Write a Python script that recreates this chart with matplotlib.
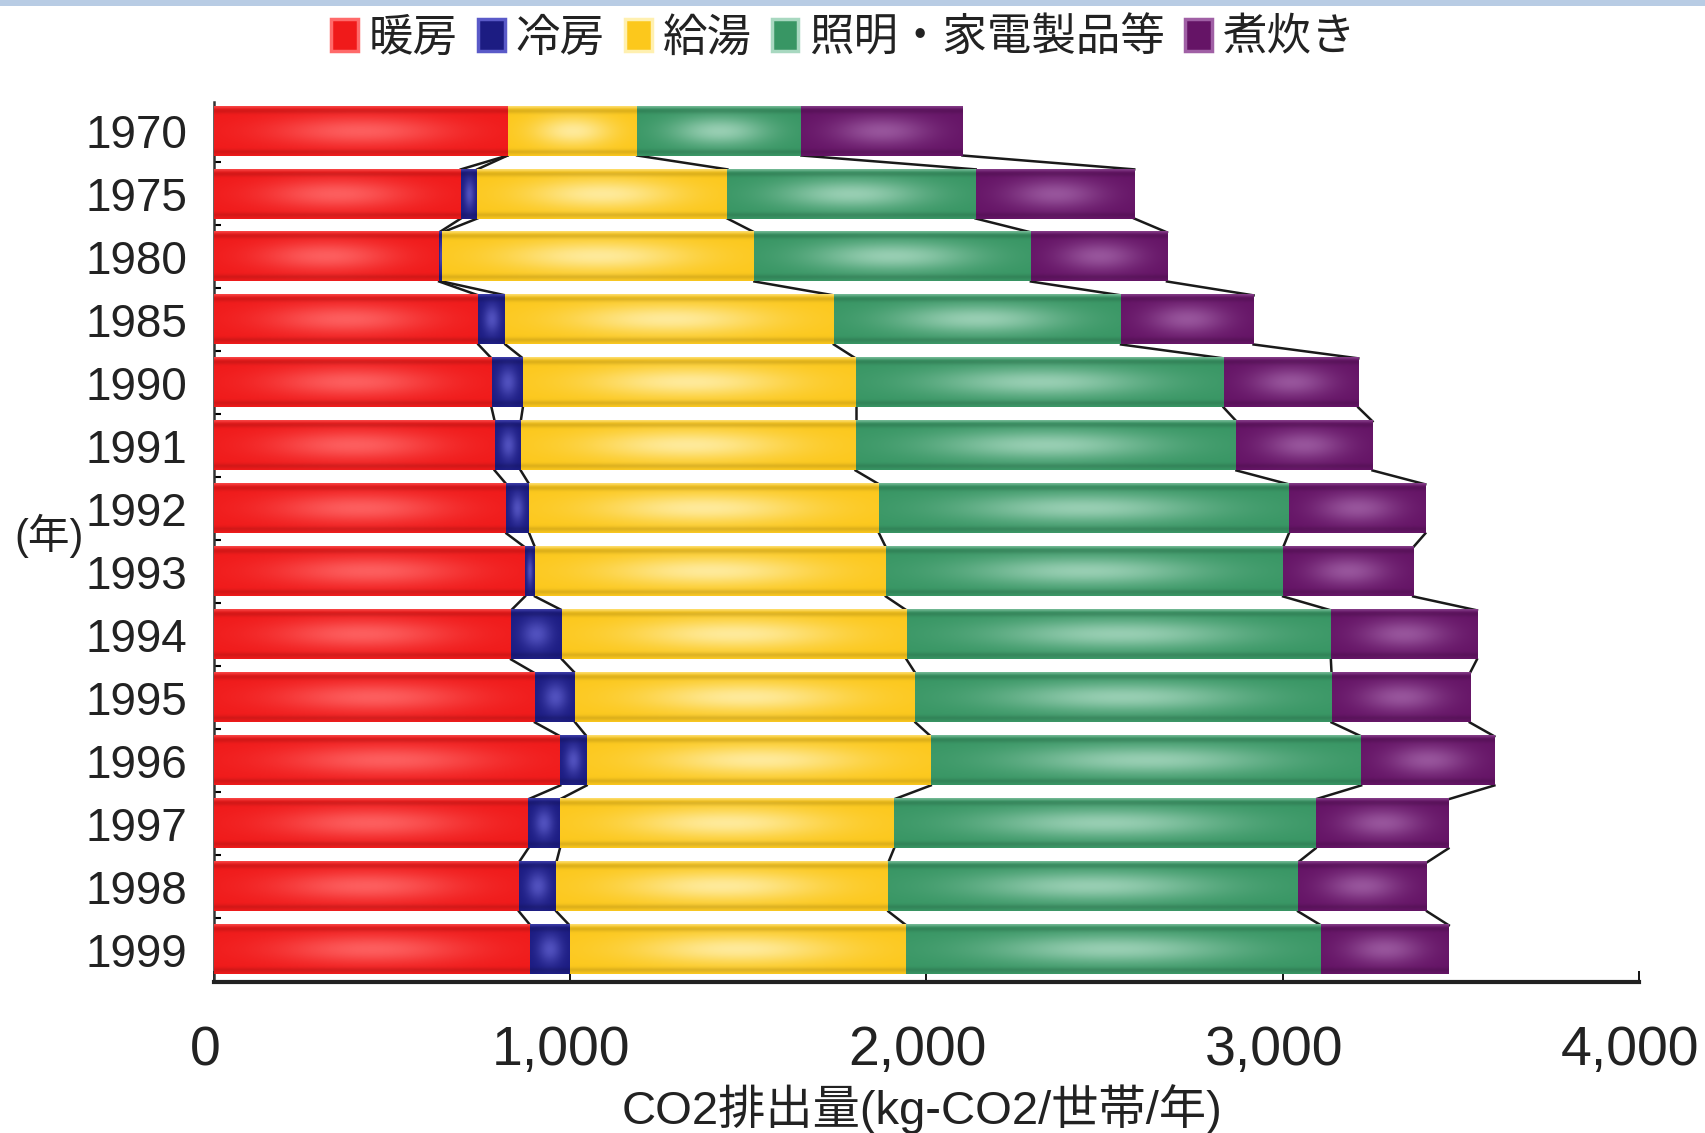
import numpy as np
import matplotlib
matplotlib.use("Agg")
import matplotlib.pyplot as plt
import matplotlib.transforms as mtransforms
from matplotlib.colors import to_rgb
from matplotlib.patches import Patch, Rectangle
from matplotlib.ticker import FuncFormatter

# household CO2 emissions by use (kg-CO2 / household / year)
years = ['1970', '1975', '1980', '1985', '1990', '1991', '1992',
         '1993', '1994', '1995', '1996', '1997', '1998', '1999']
heating = [824, 693, 632, 742, 779, 788, 821, 873, 834, 901, 972, 882, 856, 888]
cooling = [0, 46, 9, 76, 88, 73, 64, 28, 143, 113, 74, 89, 105, 110]
hot_water = [364, 702, 876, 922, 934, 940, 982, 985, 967, 955, 966, 938, 932, 945]
lighting = [461, 697, 776, 806, 1033, 1069, 1150, 1115, 1191, 1168, 1208, 1183, 1150, 1164]
cooking = [452, 445, 382, 372, 378, 382, 383, 365, 410, 388, 374, 373, 362, 359]

labels = ['暖房', '冷房', '給湯', '照明・家電製品等', '煮炊き']
base_colors = ['#f01a1a', '#1c1c82', '#fcc81c', '#389664', '#651466']
light_colors = ['#ff6a6a', '#5a5ac8', '#fff0b0', '#a8d8c0', '#a060a5']

plt.rcParams['font.family'] = ['Liberation Sans', 'Noto Sans CJK JP', 'DejaVu Sans']


def shade(color, light):
    # bar fill with a soft light area in the middle, like the original's glossy bars
    c = np.array(to_rgb(color))
    l = np.array(to_rgb(light))
    u = np.linspace(0, 1, 80)
    v = np.linspace(0, 1, 40)
    U, V = np.meshgrid(u, v)
    w = np.exp(-((U - 0.5) / 0.3) ** 2) * np.exp(-((V - 0.5) / 0.3) ** 2) * 0.85
    w = np.maximum(w, 0.5 * np.exp(-(V / 0.035) ** 2))  # thin light top edge
    img = c * (1 - w[..., None]) + l * w[..., None]
    d = 0.12 * (np.exp(-((V - 0.09) / 0.05) ** 2) + np.exp(-((V - 0.93) / 0.05) ** 2))
    return np.clip(img * (1 - d[..., None]), 0, 1)


def main():
    fig = plt.figure(figsize=(17.05, 11.33), dpi=100)
    ax = fig.add_axes([0.1255, 0.1333, 0.8358, 0.7767])

    series = [heating, cooling, hot_water, lighting, cooking]
    y = np.arange(len(years))
    h = 0.78
    left = np.zeros(len(years))
    ends = []
    for vals, col, lcol in zip(series, base_colors, light_colors):
        bars = ax.barh(y, vals, left=left, height=h, color=col, zorder=2)
        img = shade(col, lcol)
        for b in bars:
            if b.get_width() <= 0:
                continue
            x0, y0 = b.get_x(), b.get_y()
            ax.imshow(img, extent=(x0, x0 + b.get_width(), y0 + b.get_height(), y0),
                      aspect='auto', interpolation='bilinear', zorder=3)
        left = left + np.array(vals)
        ends.append(left.copy())

    # connector lines between the segment ends of neighbouring rows
    for e in ends:
        for i in range(len(years) - 1):
            ax.plot([e[i], e[i + 1]], [i + h / 2, i + 1 - h / 2],
                    color='#1a1a1a', lw=1.8, zorder=1)

    ax.set_xlim(0, 4000)
    ax.set_ylim(13.51, -0.46)
    ax.set_xticks([0, 1000, 2000, 3000, 4000])
    ax.xaxis.set_major_formatter(FuncFormatter(lambda v, p: f'{int(v):,}'))
    ax.set_yticks(y)
    ax.set_yticklabels(years)
    ax.set_yticks(y[:-1] + 0.5, minor=True)

    ax.tick_params(axis='x', direction='in', length=8, width=1.3, pad=31,
                   labelsize=40, labelcolor='#222222')
    ax.tick_params(axis='y', which='major', length=0, pad=19, labelsize=33,
                   labelcolor='#222222')
    ax.tick_params(axis='y', which='minor', direction='in', length=5, width=1.5)

    # x tick labels sit slightly left of their ticks in the original
    shift = mtransforms.ScaledTranslation(-0.09, 0, fig.dpi_scale_trans)
    for lab in ax.get_xticklabels():
        lab.set_transform(lab.get_transform() + shift)

    for s in ['top', 'right']:
        ax.spines[s].set_visible(False)
    ax.spines['bottom'].set_linewidth(3)
    ax.spines['bottom'].set_color('#222222')
    ax.spines['left'].set_linewidth(1.8)
    ax.spines['left'].set_color('#333333')

    fig.text(0.029, 1 - 536 / 1133, '(年)', ha='center', va='center',
             fontsize=30, color='#222222')
    fig.text(0.541, 0.021, 'CO2排出量(kg-CO2/世帯/年)', ha='center', va='center',
             fontsize=34, color='#222222')

    handles = [Patch(facecolor=c, edgecolor=l, linewidth=2.5)
               for c, l in zip(base_colors, light_colors)]
    leg = fig.legend(handles, labels, loc='center', bbox_to_anchor=(0.495, 0.966),
                     ncol=5, frameon=False, fontsize=32, handlelength=0.6,
                     handleheight=0.75, handletextpad=0.25, columnspacing=0.45,
                     borderpad=0, borderaxespad=0)
    for t in leg.get_texts():
        t.set_color('#222222')

    # pale blue strip along the top edge
    fig.patches.append(Rectangle((0, 1 - 6 / 1133), 1, 6 / 1133, transform=fig.transFigure,
                                 facecolor='#b8cce4', edgecolor='none'))

    fig.savefig('out.png', dpi=100)


if __name__ == "__main__":
    main()
